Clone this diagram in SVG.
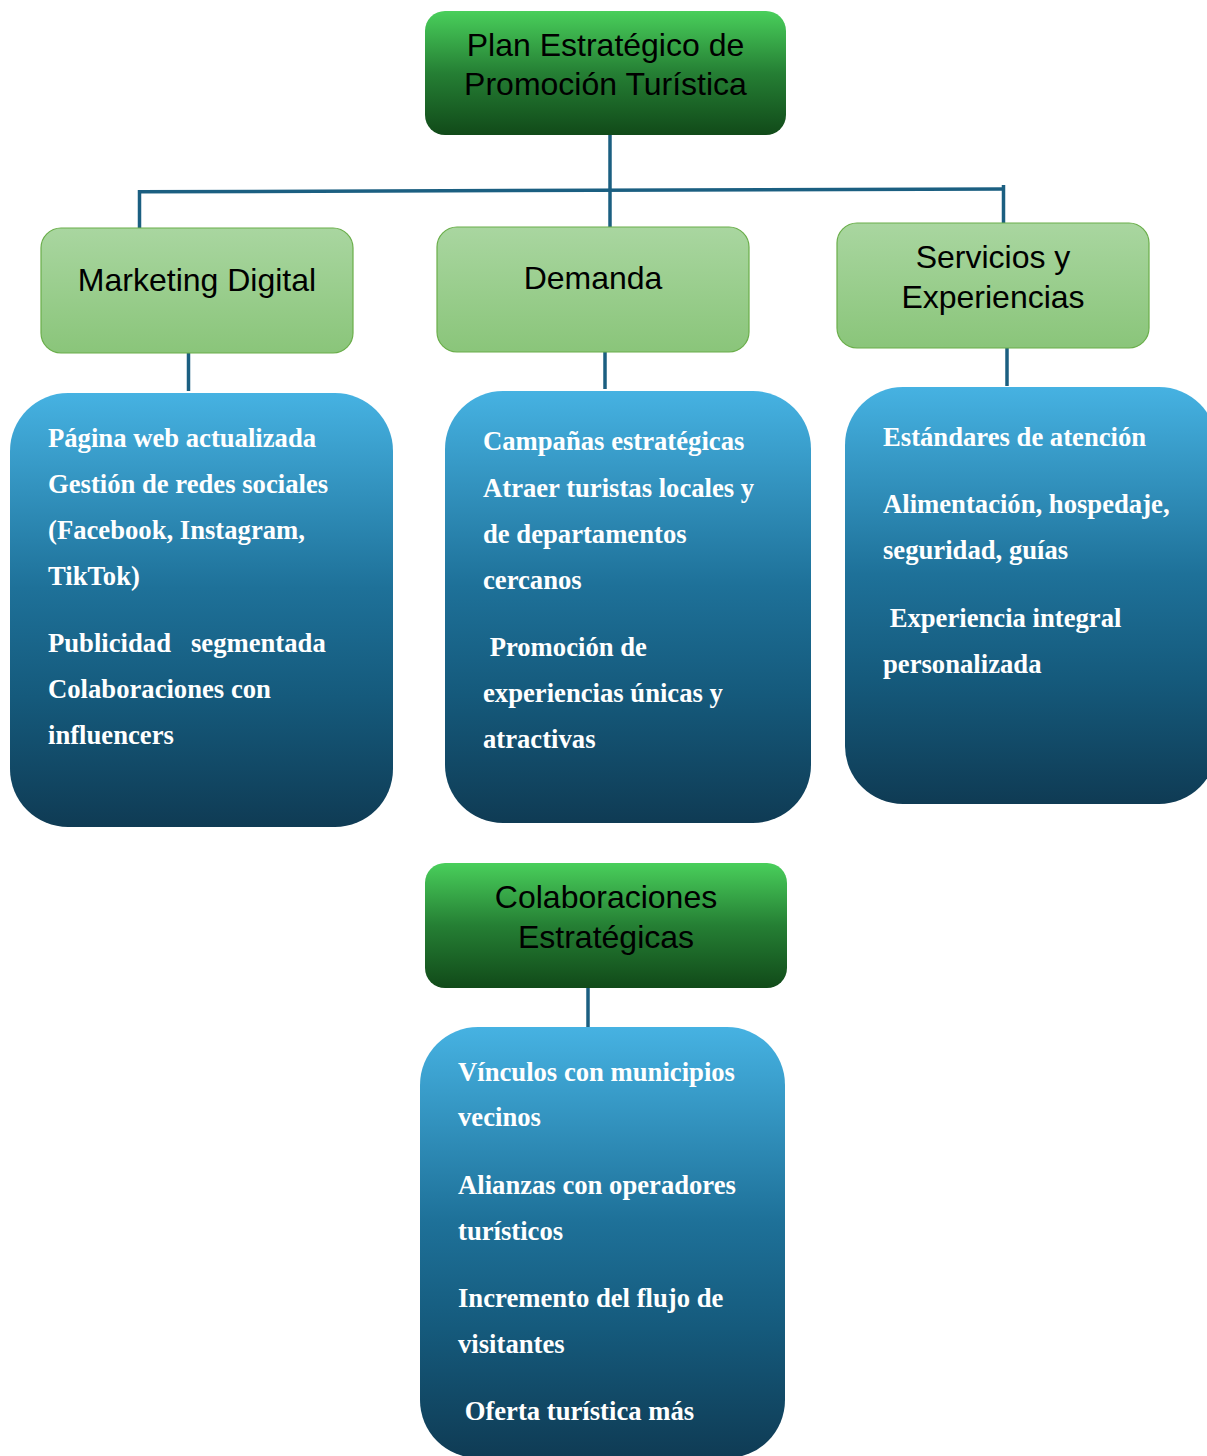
<svg xmlns="http://www.w3.org/2000/svg" width="1207" height="1456" viewBox="0 0 1207 1456">
<defs>
<linearGradient id="gDark" x1="0" y1="0" x2="0" y2="1">
<stop offset="0" stop-color="#49cf5b"/>
<stop offset="0.5" stop-color="#257f34"/>
<stop offset="1" stop-color="#114a19"/>
</linearGradient>
<linearGradient id="gLight" x1="0" y1="0" x2="0" y2="1">
<stop offset="0" stop-color="#a9d6a0"/>
<stop offset="1" stop-color="#8ac57a"/>
</linearGradient>
<linearGradient id="gBlue" x1="0" y1="0" x2="0" y2="1">
<stop offset="0" stop-color="#46b2e2"/>
<stop offset="0.45" stop-color="#1e7199"/>
<stop offset="0.7" stop-color="#155a7c"/>
<stop offset="1" stop-color="#0f3b54"/>
</linearGradient>
<style>
.dark{fill:url(#gDark);}
.light{fill:url(#gLight);stroke:#6aae4a;stroke-width:1.2;}
.blue{fill:url(#gBlue);}
.title{font-family:"Liberation Sans",Arial,sans-serif;font-size:32px;fill:#000;text-anchor:middle;}
.item{font-family:"Liberation Serif","Times New Roman",serif;font-size:26.67px;font-weight:bold;fill:#fff;white-space:pre;}
.conn{stroke:#1b5f81;stroke-width:3.5;fill:none;}
</style>
</defs>
<rect width="1207" height="1456" fill="#fff"/>
<g id="connectors">
<line class="conn" x1="610" y1="135" x2="610" y2="228"/>
<line class="conn" x1="138" y1="191.8" x2="1005" y2="189"/>
<line class="conn" x1="139.5" y1="190" x2="139.5" y2="228"/>
<line class="conn" x1="1003.5" y1="185" x2="1003.5" y2="223"/>
<line class="conn" x1="188.5" y1="353" x2="188.5" y2="391"/>
<line class="conn" x1="605" y1="352" x2="605" y2="389"/>
<line class="conn" x1="1007" y1="348" x2="1007" y2="386"/>
<line class="conn" x1="588" y1="988" x2="588" y2="1027"/>
</g>
<g id="plan">
<rect class="dark" x="425" y="11" width="361" height="124" rx="20"/>
<text class="title" x="605.5" y="56">Plan Estratégico de</text>
<text class="title" x="605.5" y="95">Promoción Turística</text>
</g>
<g id="marketing">
<rect class="light" x="41" y="228" width="312" height="125" rx="20"/>
<text class="title" x="197" y="291">Marketing Digital</text>
</g>
<g id="demanda">
<rect class="light" x="437" y="227" width="312" height="125" rx="20"/>
<text class="title" x="593" y="289">Demanda</text>
</g>
<g id="servicios">
<rect class="light" x="837" y="223" width="312" height="125" rx="20"/>
<text class="title" x="993" y="268">Servicios y</text>
<text class="title" x="993" y="308">Experiencias</text>
</g>
<g id="marketing-items">
<rect class="blue" x="10" y="393" width="383" height="434" rx="58"/>
<text class="item" x="48" y="447">Página web actualizada</text>
<text class="item" x="48" y="493">Gestión de redes sociales</text>
<text class="item" x="48" y="539">(Facebook, Instagram,</text>
<text class="item" x="48" y="585">TikTok)</text>
<text class="item" x="48" y="652">Publicidad   segmentada</text>
<text class="item" x="48" y="698">Colaboraciones con</text>
<text class="item" x="48" y="744">influencers</text>
</g>
<g id="demanda-items">
<rect class="blue" x="445" y="391" width="366" height="432" rx="58"/>
<text class="item" x="483" y="450">Campañas estratégicas</text>
<text class="item" x="483" y="497">Atraer turistas locales y</text>
<text class="item" x="483" y="543">de departamentos</text>
<text class="item" x="483" y="589">cercanos</text>
<text class="item" x="483" y="656"> Promoción de</text>
<text class="item" x="483" y="702">experiencias únicas y</text>
<text class="item" x="483" y="748">atractivas</text>
</g>
<g id="servicios-items">
<rect class="blue" x="845" y="387" width="372" height="417" rx="58"/>
<text class="item" x="883" y="446">Estándares de atención</text>
<text class="item" x="883" y="513">Alimentación, hospedaje,</text>
<text class="item" x="883" y="559">seguridad, guías</text>
<text class="item" x="883" y="627"> Experiencia integral</text>
<text class="item" x="883" y="673">personalizada</text>
</g>
<g id="colaboraciones">
<rect class="dark" x="425" y="863" width="362" height="125" rx="20"/>
<text class="title" x="606" y="908">Colaboraciones</text>
<text class="title" x="606" y="948">Estratégicas</text>
</g>
<g id="colaboraciones-items">
<rect class="blue" x="420" y="1027" width="365" height="431" rx="58"/>
<text class="item" x="458" y="1081">Vínculos con municipios</text>
<text class="item" x="458" y="1126">vecinos</text>
<text class="item" x="458" y="1194">Alianzas con operadores</text>
<text class="item" x="458" y="1240">turísticos</text>
<text class="item" x="458" y="1307">Incremento del flujo de</text>
<text class="item" x="458" y="1353">visitantes</text>
<text class="item" x="458" y="1420"> Oferta turística más</text>
</g>
</svg>
